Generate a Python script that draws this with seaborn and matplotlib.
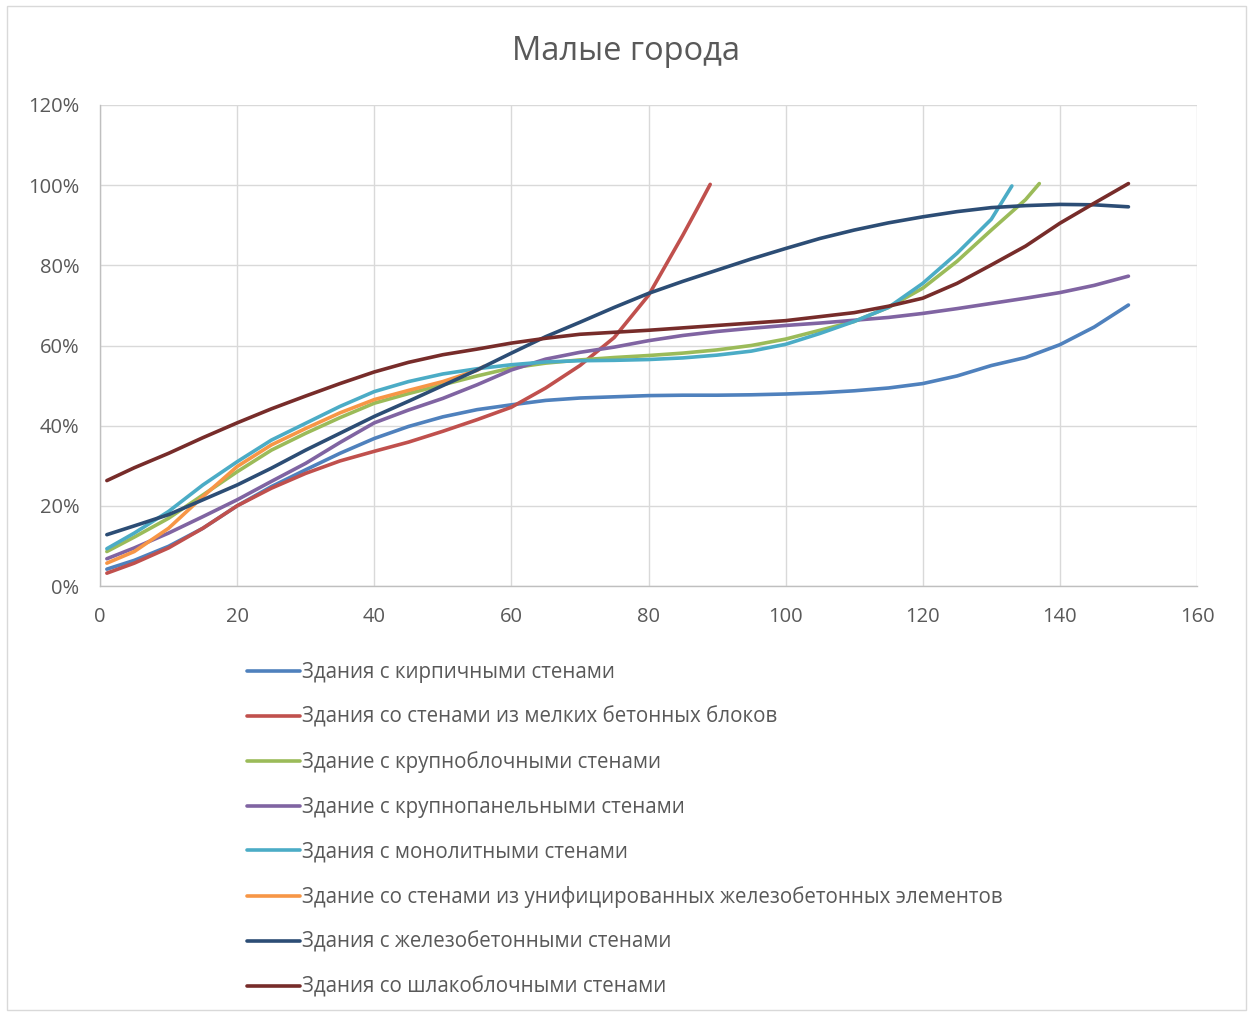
import matplotlib
matplotlib.use('Agg')
import matplotlib.pyplot as plt
import seaborn as sns
from matplotlib.patches import Rectangle
from matplotlib.ticker import PercentFormatter

title = "Малые города"

labels = [
    "Здания с кирпичными стенами",
    "Здания со стенами из мелких бетонных блоков",
    "Здание с крупноблочными стенами",
    "Здание с крупнопанельными стенами",
    "Здания с монолитными стенами",
    "Здание со стенами из унифицированных железобетонных элементов",
    "Здания с железобетонными стенами",
    "Здания со шлакоблочными стенами",
]
colors = ["#4F81BD", "#C0504D", "#9BBB59", "#8064A2",
          "#4BACC6", "#F79646", "#2C4D75", "#772C2A"]

x_full = [1, 5, 10, 15, 20, 25, 30, 35, 40, 45, 50, 55, 60, 65, 70, 75,
          80, 85, 90, 95, 100, 105, 110, 115, 120, 125, 130, 135, 140, 145, 150]

# кирпич
brick = [4.2, 6.4, 9.9, 14.4, 20.0, 24.8, 29.0, 33.1, 36.8, 39.8, 42.2, 44.0,
         45.2, 46.3, 46.9, 47.2, 47.5, 47.6, 47.6, 47.7, 47.9, 48.2, 48.7, 49.4,
         50.5, 52.4, 55.0, 57.0, 60.2, 64.6, 70.1]

# мелкие бетонные блоки
x_small_block = [1, 5, 10, 15, 20, 25, 30, 35, 40, 45, 50, 55, 60, 65, 70,
                 75, 80, 85, 87, 89]
small_block = [3.2, 5.7, 9.5, 14.4, 20.0, 24.4, 28.1, 31.2, 33.6, 35.9, 38.6,
               41.5, 44.6, 49.4, 55.0, 62.0, 72.5, 87.5, 93.8, 100.2]

# крупные блоки
x_large_block = [1, 5, 10, 15, 20, 25, 30, 35, 40, 45, 50, 55, 60, 65, 70,
                 75, 80, 85, 90, 95, 100, 105, 110, 115, 120, 125, 130, 135, 137]
large_block = [8.6, 12.2, 16.9, 22.7, 28.5, 33.9, 38.1, 42.0, 45.6, 48.0, 50.2,
               52.4, 54.4, 55.6, 56.4, 57.0, 57.5, 58.1, 58.9, 60.0, 61.6, 63.8,
               66.0, 69.5, 74.3, 81.0, 88.8, 96.4, 100.4]

# крупные панели
large_panel = [6.8, 9.5, 13.2, 17.3, 21.5, 26.1, 30.6, 35.8, 40.7, 43.9, 46.8,
               50.2, 53.9, 56.6, 58.3, 59.6, 61.2, 62.5, 63.5, 64.3, 65.0, 65.6,
               66.3, 67.0, 68.0, 69.2, 70.5, 71.8, 73.2, 75.0, 77.3]

# монолит
x_monolith = [1, 5, 10, 15, 20, 25, 30, 35, 40, 45, 50, 55, 60, 65, 70, 75,
              80, 85, 90, 95, 100, 105, 110, 115, 120, 125, 130, 133]
monolith = [9.3, 13.2, 18.6, 25.2, 31.0, 36.4, 40.6, 44.8, 48.5, 51.0, 52.9,
            54.2, 55.2, 55.9, 56.2, 56.3, 56.5, 56.9, 57.6, 58.6, 60.3, 63.0,
            66.0, 69.5, 75.5, 83.0, 91.5, 99.8]

# унифицированные ж/б элементы
x_unified = [1, 5, 10, 15, 20, 25, 30, 35, 40, 45, 50, 55, 56]
unified = [5.7, 8.6, 14.4, 22.3, 29.8, 35.2, 39.3, 43.2, 46.5, 48.8, 51.0,
           53.8, 54.8]

# железобетон
reinforced = [12.8, 15.0, 17.8, 21.5, 25.2, 29.4, 33.9, 38.1, 42.3, 46.1, 50.0,
              53.9, 58.1, 62.2, 65.8, 69.5, 73.0, 76.0, 78.8, 81.6, 84.2, 86.7,
              88.8, 90.6, 92.1, 93.4, 94.4, 94.9, 95.2, 95.1, 94.6]

# шлакоблок
slag = [26.3, 29.5, 33.1, 37.0, 40.7, 44.2, 47.4, 50.5, 53.4, 55.8, 57.7, 59.1,
        60.6, 61.8, 62.8, 63.3, 63.8, 64.4, 65.0, 65.6, 66.2, 67.2, 68.2, 69.8,
        71.8, 75.5, 80.1, 84.8, 90.5, 95.5, 100.4]

series = [
    (x_full, brick),
    (x_small_block, small_block),
    (x_large_block, large_block),
    (x_full, large_panel),
    (x_monolith, monolith),
    (x_unified, unified),
    (x_full, reinforced),
    (x_full, slag),
]

sns.set_style("white")
plt.rcParams['font.family'] = ['Open Sans', 'DejaVu Sans']
text_col = "#595959"

W, H = 1253, 1016
fig = plt.figure(figsize=(W / 100, H / 100), dpi=100)
ax = fig.add_axes([100 / W, 1 - 586 / H, 1097 / W, 481 / H])

for lab, col, (xs, ys) in zip(labels, colors, series):
    sns.lineplot(x=xs, y=[v / 100 for v in ys], color=col, linewidth=2.6,
                 estimator=None, ax=ax, label=lab, legend=False)

ax.set_xlim(0, 160)
ax.set_ylim(0, 1.2)
ax.set_xticks(range(0, 161, 20))
ax.set_yticks([i * 0.2 for i in range(7)])
ax.yaxis.set_major_formatter(PercentFormatter(1.0, decimals=0))
ax.grid(True, color="#D9D9D9", linewidth=1.0)
ax.set_axisbelow(True)
for s in ["top", "right"]:
    ax.spines[s].set_visible(False)
for s in ["left", "bottom"]:
    ax.spines[s].set_color("#BFBFBF")
    ax.spines[s].set_linewidth(1.0)
ax.tick_params(axis="both", length=0, labelsize=14.5, colors=text_col)
ax.tick_params(axis="y", pad=15)
ax.tick_params(axis="x", pad=15)

fig.text(626 / W, 1 - 52 / H, title, ha="center", va="center",
         fontsize=23.5, color=text_col)

handles, hlabels = ax.get_legend_handles_labels()
leg = fig.legend(handles, hlabels, loc="upper left",
                 bbox_to_anchor=(247 / W, 1 - 662 / H), frameon=False,
                 fontsize=14.8, handlelength=2.58, handletextpad=0.12,
                 labelspacing=1.145, borderaxespad=0, borderpad=0)
for t in leg.get_texts():
    t.set_color(text_col)

fig.add_artist(Rectangle((7 / W, 6 / H), 1239 / W, 1004 / H,
                         transform=fig.transFigure, fill=False,
                         edgecolor="#D9D9D9", linewidth=1.0))

fig.savefig("out.png", dpi=100)
